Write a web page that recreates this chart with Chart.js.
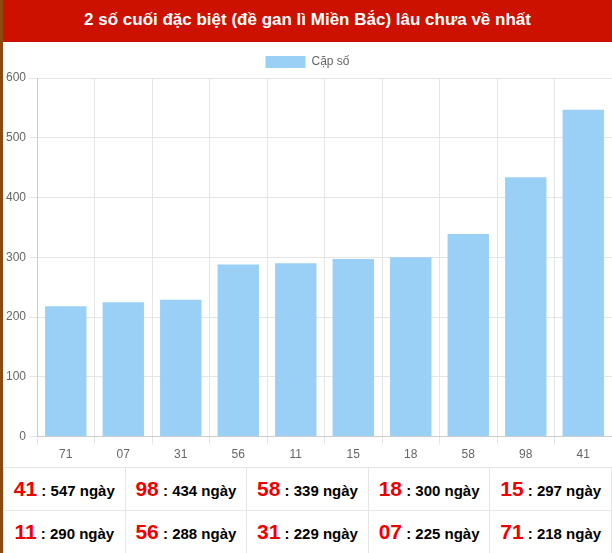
<!DOCTYPE html>
<html><head><meta charset="utf-8">
<script src="https://cdn.jsdelivr.net/npm/chart.js"></script>
<style>
body{margin:0;width:612px;height:553px;overflow:hidden;font-family:Arial,"Liberation Sans",sans-serif;background:#fff}
#wrap{position:absolute;left:0;top:0;width:612px;height:553px;border-left:3px solid #8a4a10;box-sizing:border-box}
#hd{height:42px;background:#cc1100;color:#fff;font-weight:bold;font-size:17px;text-align:center;line-height:40px}
#cv{position:relative;height:425px;width:609px}
table{border-collapse:collapse;width:609px;table-layout:fixed}
td{border:1px solid #e6e6e6;height:42px;text-align:center;font-size:15px;font-weight:bold;color:#000;padding:0}
td b{color:#e00;font-size:21px}
</style></head><body>
<div id="wrap">
<div id="hd">2 số cuối đặc biệt (đề gan lì Miền Bắc) lâu chưa về nhất</div>
<div id="cv"><canvas id="c"></canvas></div>
<table id="t"></table>
</div>
<script>
const categories=["71","07","31","56","11","15","18","58","98","41"];
const values=[218,225,229,288,290,297,300,339,434,547];
const yTicks=[0,100,200,300,400,500,600];
const tableNums=["41","98","58","18","15","11","56","31","07","71"];
const tableDays=[547,434,339,300,297,290,288,229,225,218];
let h="";
for(let r=0;r<2;r++){h+="<tr>";for(let i=0;i<5;i++){const k=r*5+i;h+="<td><b>"+tableNums[k]+"</b> : "+tableDays[k]+" ngày</td>";}h+="</tr>";}
document.getElementById("t").innerHTML=h;
new Chart(document.getElementById("c"),{type:"bar",
data:{labels:categories,datasets:[{label:"Cặp số",data:values,backgroundColor:"rgba(154,208,245,1)",borderWidth:0,categoryPercentage:0.8,barPercentage:0.9}]},
options:{responsive:true,maintainAspectRatio:false,animation:false,
layout:{padding:{left:0,right:0,top:4,bottom:2}},
plugins:{legend:{labels:{color:"#666",font:{size:12},boxWidth:40,boxHeight:12}}},
scales:{y:{min:0,max:600,afterBuildTicks:a=>{a.ticks=yTicks.map(v=>({value:v}));},ticks:{color:"#666",font:{size:12}},grid:{color:"#e5e5e5"}},
x:{ticks:{color:"#666",font:{size:12}},grid:{color:"#e5e5e5"}}}}});
</script></body></html>
